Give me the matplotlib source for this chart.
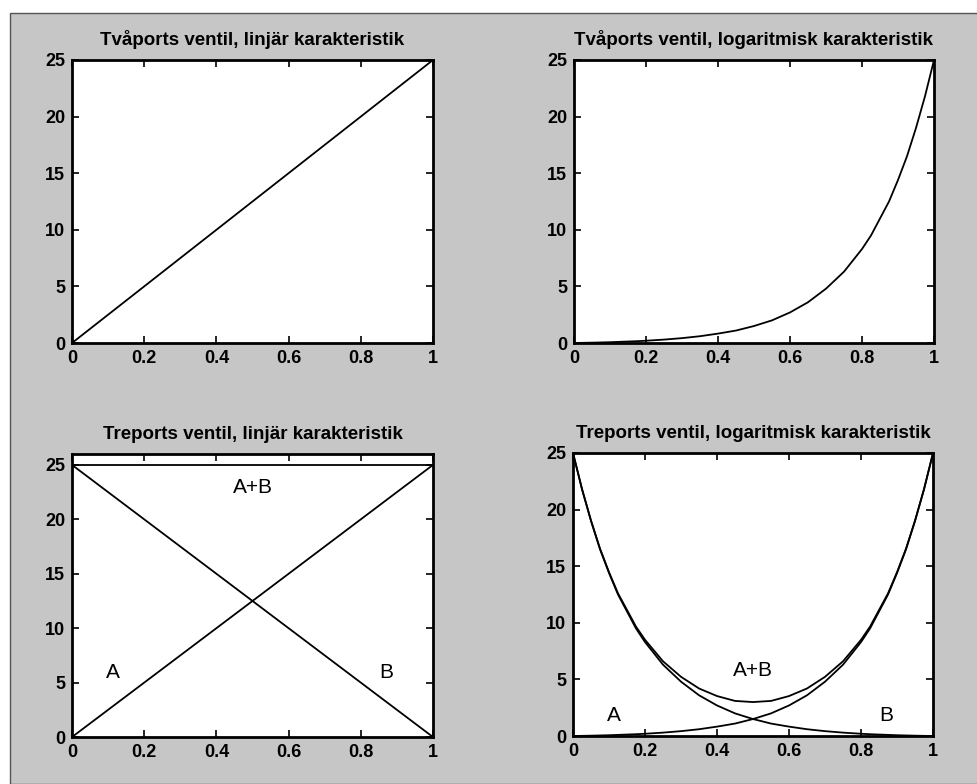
import matplotlib
matplotlib.use('Agg')
import matplotlib.pyplot as plt
from matplotlib.patches import Rectangle
import numpy as np

# valve position (0..1) and flow for the two characteristics
position = [0.0, 0.025, 0.05, 0.075, 0.1, 0.125, 0.15, 0.175, 0.2, 0.25,
            0.3, 0.35, 0.4, 0.45, 0.5, 0.55, 0.6, 0.65, 0.7, 0.75, 0.8,
            0.825, 0.85, 0.875, 0.9, 0.925, 0.95, 0.975, 1.0]
flow_log = [0.0, 0.015, 0.03, 0.05, 0.07, 0.10, 0.13, 0.16, 0.2, 0.3,
            0.43, 0.6, 0.83, 1.1, 1.5, 2.0, 2.7, 3.6, 4.8, 6.3, 8.3,
            9.5, 11.0, 12.5, 14.4, 16.5, 19.0, 21.8, 25.0]
lin_x = [0.0, 1.0]
lin_y = [0.0, 25.0]

titles = ['Tvåports ventil, linjär karakteristik',
          'Tvåports ventil, logaritmisk karakteristik',
          'Treports ventil, linjär karakteristik',
          'Treports ventil, logaritmisk karakteristik']
xticks = [0, 0.2, 0.4, 0.6, 0.8, 1]
xticklabels = ['0', '0.2', '0.4', '0.6', '0.8', '1']
yticks = [0, 5, 10, 15, 20, 25]

plt.rcParams['font.family'] = ['Liberation Sans', 'DejaVu Sans']

fig = plt.figure(figsize=(9.77, 7.84), dpi=100)
fig.patch.set_facecolor('white')
fig.patches.append(Rectangle((10 / 977, 0), 1, 1 - 13 / 784, transform=fig.transFigure,
                             facecolor='#c6c6c6', edgecolor='#555555', linewidth=1,
                             zorder=-10))

positions = [[0.0737, 0.5625, 0.3695, 0.361],
             [0.5875, 0.5625, 0.3685, 0.361],
             [0.0737, 0.0599, 0.3695, 0.361],
             [0.5865, 0.0612, 0.3685, 0.361]]
axes = [fig.add_axes(p) for p in positions]

for ax, title in zip(axes, titles):
    ax.set_facecolor('white')
    ax.set_xlim(0, 1)
    ax.set_ylim(0, 25)
    ax.set_xticks(xticks)
    ax.set_xticklabels(xticklabels)
    ax.set_yticks(yticks)
    ax.tick_params(direction='in', length=5, width=1.2, top=True, right=True,
                   labelsize=13, pad=5)
    for lab in ax.get_xticklabels() + ax.get_yticklabels():
        lab.set_fontweight('bold')
    for s in ax.spines.values():
        s.set_linewidth(2)
    ax.set_title(title, fontsize=13.5, fontweight='bold', pad=11)

lw = 1.3
# two-port, linear
axes[0].plot(lin_x, lin_y, color='black', lw=lw)

# two-port, logarithmic
axes[1].plot(position, flow_log, color='black', lw=lw)

# three-port, linear: port A closes as port B opens
a_lin = np.array(lin_y)[::-1]
b_lin = np.array(lin_y)
axes[2].set_ylim(0, 26)
axes[2].plot(lin_x, a_lin, color='black', lw=lw)
axes[2].plot(lin_x, b_lin, color='black', lw=lw)
axes[2].plot(lin_x, a_lin + b_lin, color='black', lw=lw)
axes[2].text(0.5, 22.9, 'A+B', ha='center', va='center', fontsize=15)
axes[2].text(0.114, 5.9, 'A', ha='center', va='center', fontsize=15)
axes[2].text(0.87, 5.9, 'B', ha='center', va='center', fontsize=15)

# three-port, logarithmic (position grid is symmetric, so reversal mirrors it)
a_log = np.array(flow_log)[::-1]
b_log = np.array(flow_log)
axes[3].plot(position, a_log, color='black', lw=lw)
axes[3].plot(position, b_log, color='black', lw=lw)
axes[3].plot(position, a_log + b_log, color='black', lw=lw)
axes[3].text(0.5, 5.8, 'A+B', ha='center', va='center', fontsize=15)
axes[3].text(0.114, 1.8, 'A', ha='center', va='center', fontsize=15)
axes[3].text(0.87, 1.8, 'B', ha='center', va='center', fontsize=15)

plt.savefig('out.png', dpi=100, facecolor=fig.get_facecolor())
